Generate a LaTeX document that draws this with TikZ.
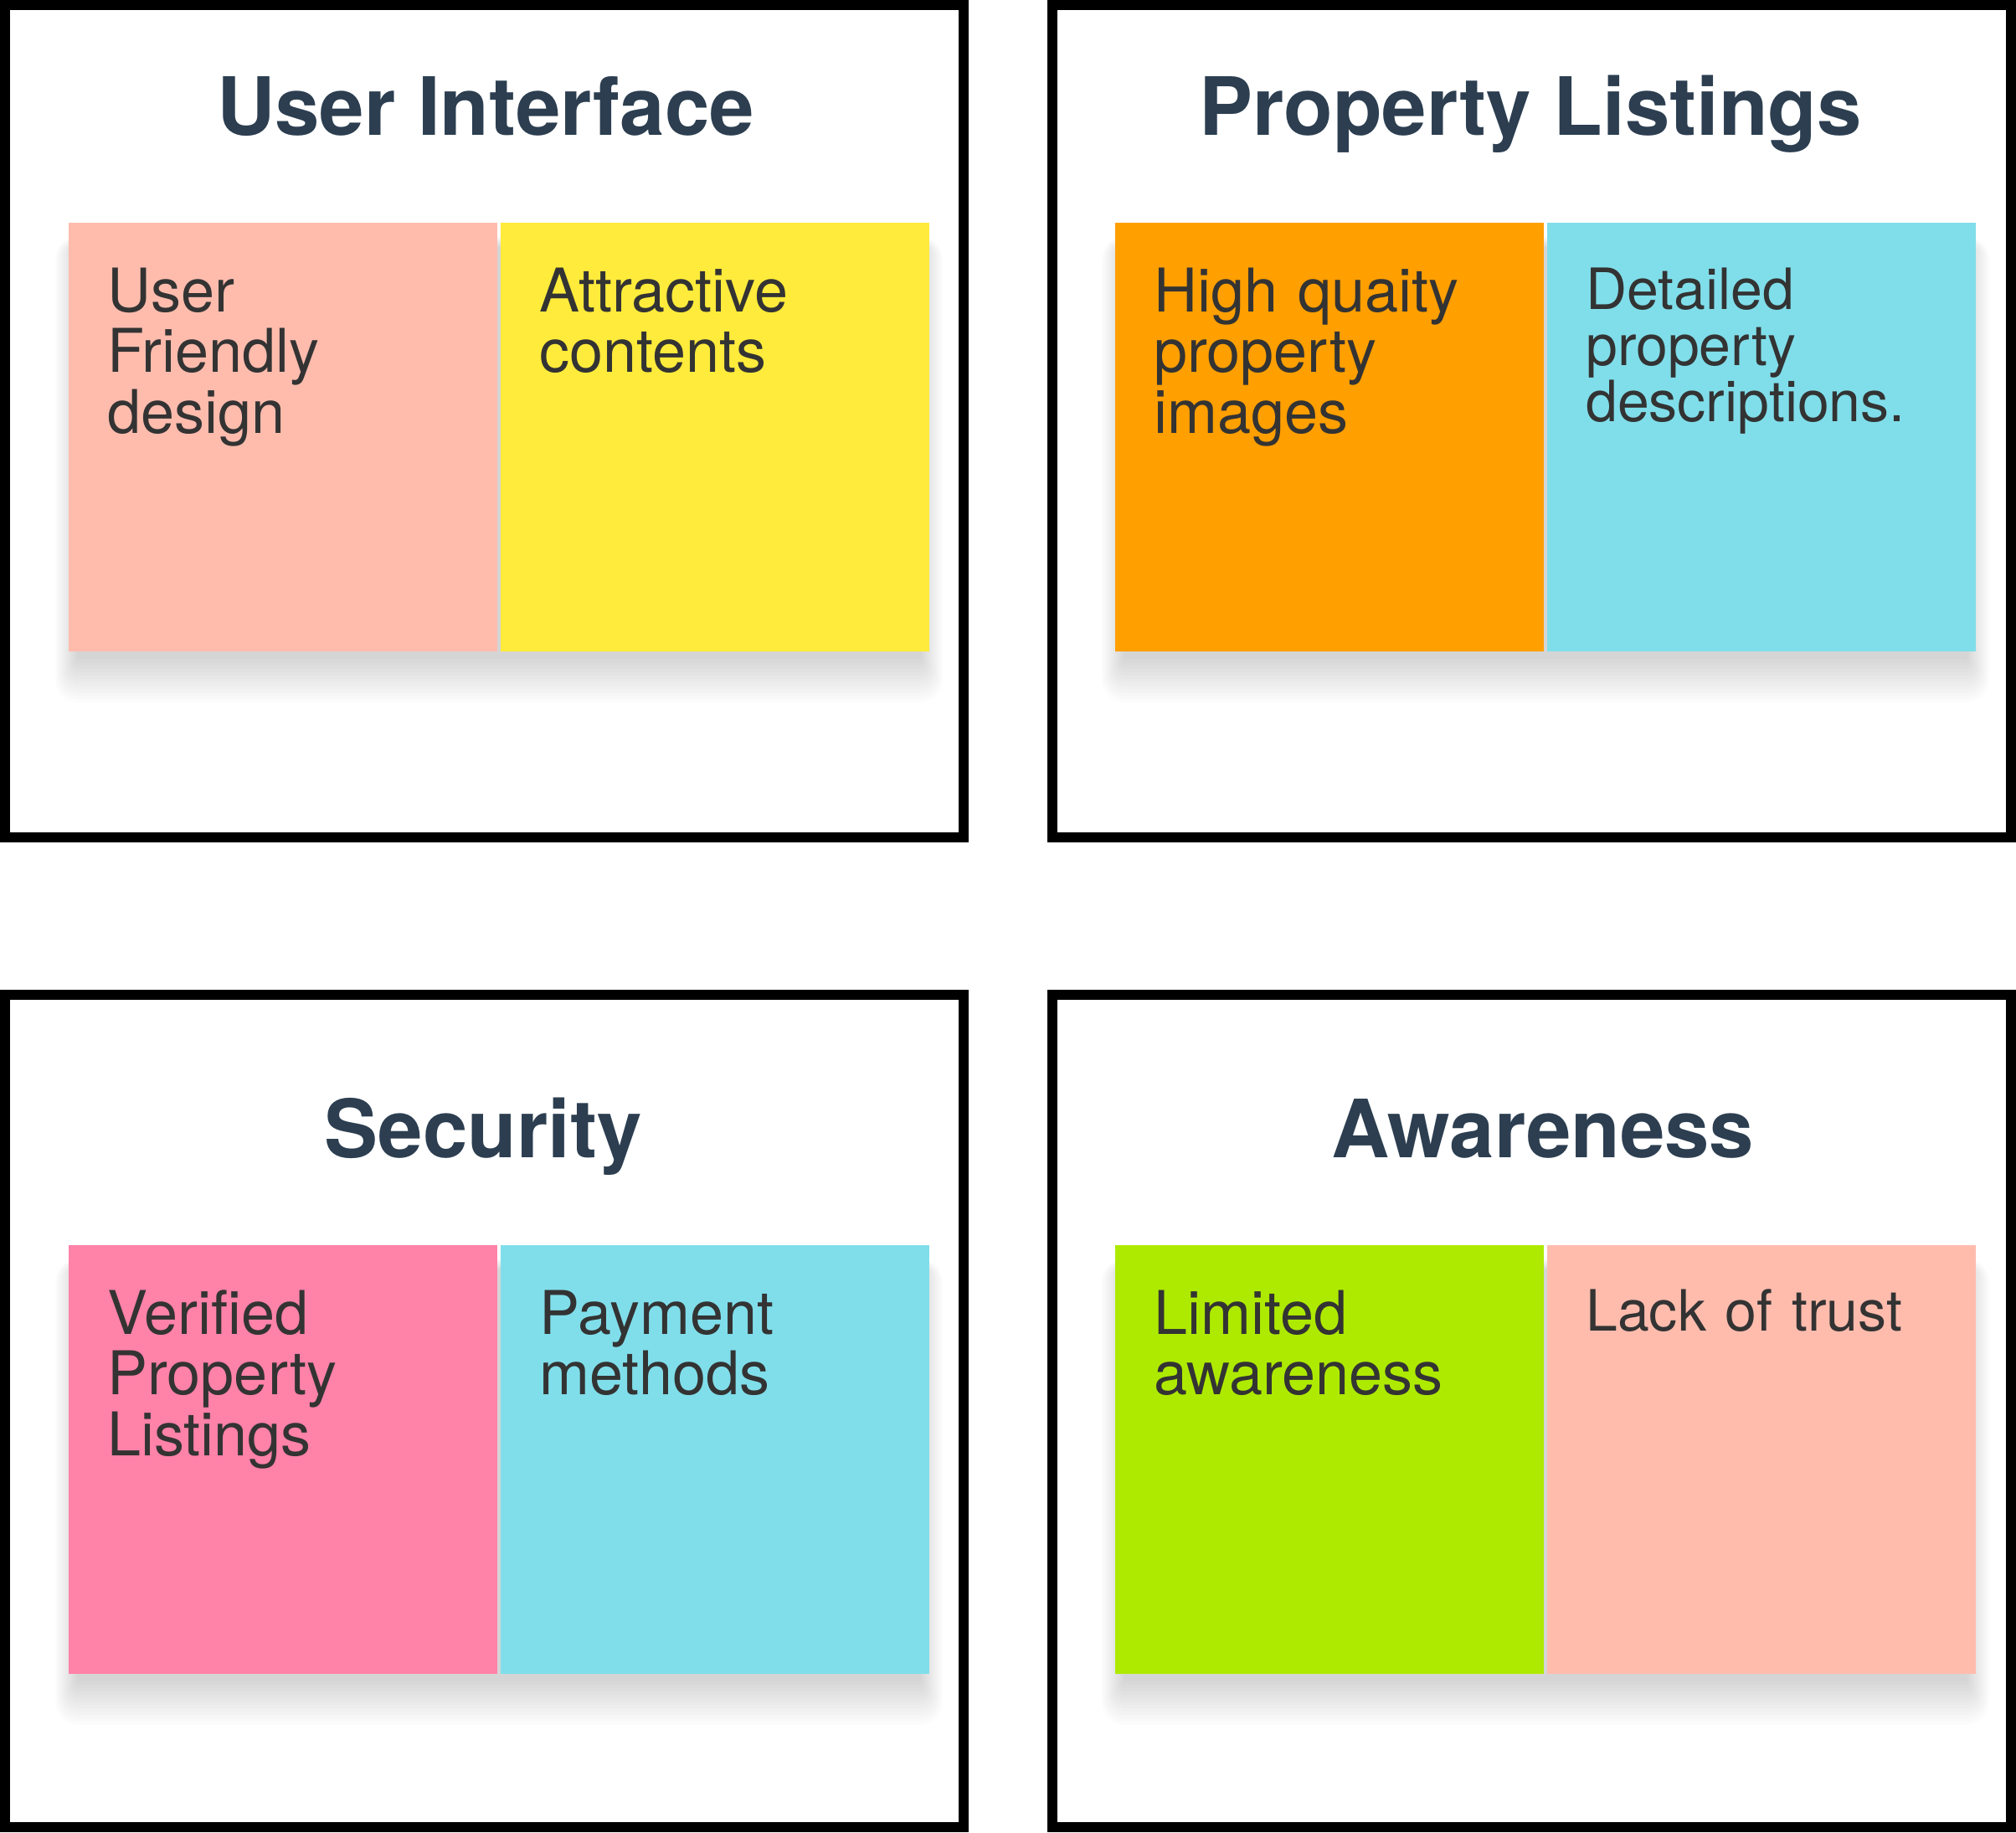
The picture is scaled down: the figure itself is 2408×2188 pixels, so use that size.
\documentclass[tikz,border=0pt]{standalone}
\usepackage{fontspec}
\setmainfont{TeX Gyre Heros}
\definecolor{titlec}{HTML}{2C3E50}
\definecolor{txtc}{HTML}{333333}
\definecolor{salmonc}{HTML}{FFBCAD}
\definecolor{sunnyc}{HTML}{FFEB3B}
\definecolor{amberc}{HTML}{FF9F00}
\definecolor{skyc}{HTML}{80DEEA}
\definecolor{rosec}{HTML}{FF82A9}
\definecolor{limec}{HTML}{AEEA00}
% soft drop shadow below a pair of notes: #1 = left x, #2 = top y, #3 = width (picture units)
\newcommand\pairshadow[3]{%
  \foreach \i in {1,...,14}{%
    \fill[black,opacity=0.011,rounded corners=\i*2pt]
      ({#1+12-2*\i},{#2+30-\i}) rectangle ({#1+#3-12+2*\i},{#2+517+4*\i});
  }%
}
\begin{document}
\begin{tikzpicture}[x=1pt,y=-1pt,
  frame/.style={draw=black,line width=12pt,fill=white},
  sticky/.style={draw=none,inner sep=0pt,minimum width=512pt,minimum height=512pt,
    anchor=north west},
  bigtxt/.style={anchor=base west,inner sep=0pt,text width=460pt,align=left,text=txtc,
    font=\fontsize{72}{72.5}\selectfont},
  smalltxt/.style={anchor=base west,inner sep=0pt,text width=460pt,align=left,text=txtc,
    font=\fontsize{68}{67}\selectfont},
  heading/.style={anchor=base,inner sep=0pt,text=titlec,font=\fontsize{96}{96}\selectfont\bfseries}
]
\useasboundingbox (0,0) rectangle (2408,2188);
\fill[white] (0,0) rectangle (2408,2188);

% frames
\draw[frame] (6,6) rectangle (1151,1000);
\draw[frame] (1257,6) rectangle (2402,1000);
\draw[frame] (6,1188) rectangle (1151,2182);
\draw[frame] (1257,1188) rectangle (2402,2182);

% titles
\node[heading] (t1) at (580,161) {User Interface};
\node[heading] (t2) at (1828,161) {Property Listings};
\node[heading] (t3) at (577,1382) {Security};
\node[heading] (t4) at (1843,1382) {Awareness};

% shadows
\pairshadow{82}{266}{1028}
\pairshadow{1332}{266}{1028}
\pairshadow{82}{1487}{1028}
\pairshadow{1332}{1487}{1028}

% notes top row
\node[sticky,fill=salmonc] (n1) at (82,266) {};
\node[sticky,fill=sunnyc] (n2) at (598,266) {};
\node[sticky,fill=amberc] (n3) at (1332,266) {};
\node[sticky,fill=skyc] (n4) at (1848,266) {};
% notes bottom row
\node[sticky,fill=rosec] (n5) at (82,1487) {};
\node[sticky,fill=skyc] (n6) at (598,1487) {};
\node[sticky,fill=limec] (n7) at (1332,1487) {};
\node[sticky,fill=salmonc] (n8) at (1848,1487) {};

% note texts
\node[bigtxt] (l1) at (128,372) {User\\Friendly\\design};
\node[bigtxt] (l2) at (644,372) {Attractive\\contents};
\node[bigtxt] (l3) at (1378,372) {High quaity\\property\\images};
\node[smalltxt] (l4) at (1894,369) {Detailed\\property\\descriptions.};
\node[bigtxt] (l5) at (128,1593) {Verified\\Property\\Listings};
\node[bigtxt] (l6) at (644,1593) {Payment\\methods};
\node[bigtxt] (l7) at (1378,1593) {Limited\\awareness};
\node[smalltxt] (l8) at (1894,1589) {Lack of trust};
\end{tikzpicture}
\end{document}
